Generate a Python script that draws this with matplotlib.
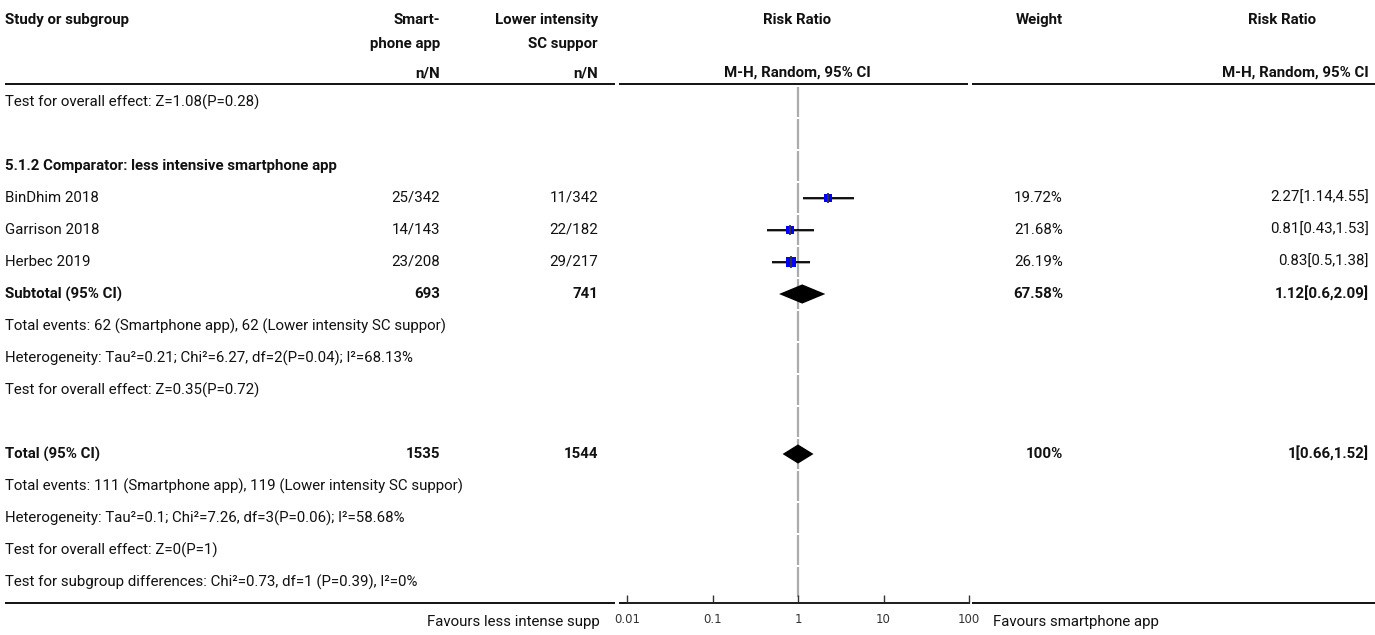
import matplotlib
matplotlib.use("Agg")
import matplotlib.pyplot as plt
from matplotlib.transforms import blended_transform_factory

plt.rcParams['font.family'] = ['Roboto', 'DejaVu Sans']

# data
studies = ["BinDhim 2018", "Garrison 2018", "Herbec 2019"]
app_n = [25, 14, 23]
app_N = [342, 143, 208]
ctl_n = [11, 22, 29]
ctl_N = [342, 182, 217]
rr = [2.27, 0.81, 0.83]
rr_lo = [1.14, 0.43, 0.5]
rr_hi = [4.55, 1.53, 1.38]
weights = [19.72, 21.68, 26.19]

sub_rr, sub_lo, sub_hi, sub_w = 1.12, 0.6, 2.09, 67.58
sub_N = [693, 741]
tot_rr, tot_lo, tot_hi, tot_w = 1, 0.66, 1.52, 100
tot_N = [1535, 1544]

ticks = [0.01, 0.1, 1, 10, 100]
tick_labels = ["0.01", "0.1", "1", "10", "100"]

fig = plt.figure(figsize=(13.75, 6.35), dpi=100)
bg = fig.add_axes([0, 0, 1, 1])
bg.set_xlim(0, 1375)
bg.set_ylim(635, 0)
bg.axis('off')

W, H = 1375, 635
x0, x1 = 627, 969
y_top, y_bot = 84, 603
row0, step = 102, 32
fx = fig.add_axes([x0 / W, (H - y_bot) / H, (x1 - x0) / W, (y_bot - y_top) / H])
fx.set_xscale('log')
fx.set_xlim(0.01, 100)
fx.set_ylim((y_bot - row0) / step, (y_top - row0) / step)
fx.patch.set_alpha(0)
for s in ['top', 'left', 'right']:
    fx.spines[s].set_visible(False)
fx.spines['bottom'].set_linewidth(1.4)
fx.spines['bottom'].set_color('#222222')
fx.set_yticks([])
fx.set_xticks(ticks)
fx.set_xticklabels(tick_labels)
fx.minorticks_off()
fx.tick_params(axis='x', direction='in', length=6, width=1, color='#333333',
               labelsize=8.5, labelcolor='#333333', pad=7)
for lab in fx.get_xticklabels():
    lab.set_fontfamily('DejaVu Sans')

tr = blended_transform_factory(bg.transData, fx.transData)
FS = 10.8


def txt(x, r, s, ha='left', bold=False):
    bg.text(x, r, s, transform=tr, ha=ha, va='center', fontsize=FS,
            fontweight='bold' if bold else 'normal', color='#111111')


# header
hdr = dict(fontsize=FS, fontweight='bold', va='center', color='#111111')
bg.text(5, 20, "Study or subgroup", ha='left', **hdr)
bg.text(440, 20, "Smart-", ha='right', **hdr)
bg.text(440, 44, "phone app", ha='right', **hdr)
bg.text(440, 73, "n/N", ha='right', **hdr)
bg.text(598, 20, "Lower intensity", ha='right', **hdr)
bg.text(598, 44, "SC suppor", ha='right', **hdr)
bg.text(598, 73, "n/N", ha='right', **hdr)
bg.text(797, 20, "Risk Ratio", ha='center', **hdr)
bg.text(797, 73, "M-H, Random, 95% CI", ha='center', **hdr)
bg.text(1063, 20, "Weight", ha='right', **hdr)
bg.text(1282, 20, "Risk Ratio", ha='center', **hdr)
bg.text(1369, 73, "M-H, Random, 95% CI", ha='right', **hdr)

for y in (y_top, y_bot):
    for a, b in [(5, 615), (619, 968), (972, 1375)]:
        bg.hlines(y, a, b, color='#111111', lw=1.4)

# vertical line at RR = 1, broken at row boundaries
n_rows = 16
for r in range(n_rows):
    lo = max(r - 0.46, (y_top - row0) / step)
    hi = min(r + 0.46, (y_bot - row0) / step)
    fx.vlines(1, lo, hi, color='#ababab', lw=1.6, zorder=1)

txt(5, 0, "Test for overall effect: Z=1.08(P=0.28)")
txt(5, 2, "5.1.2 Comparator: less intensive smartphone app", bold=True)

for i, name in enumerate(studies):
    r = 3 + i
    txt(5, r, name)
    txt(440, r, f"{app_n[i]}/{app_N[i]}", ha='right')
    txt(598, r, f"{ctl_n[i]}/{ctl_N[i]}", ha='right')
    txt(1063, r, f"{weights[i]:g}%", ha='right')
    txt(1369, r, f"{rr[i]:g}[{rr_lo[i]:g},{rr_hi[i]:g}]", ha='right')
    fx.hlines(r + 0.045, rr_lo[i], rr_hi[i], color='#999999', lw=1.2, zorder=2)
    fx.hlines(r, rr_lo[i], rr_hi[i], color='black', lw=1.3, zorder=3)
    side = weights[i] * 0.355 * 0.72
    fx.plot(rr[i], r, marker='s', ms=side, color='#0000ff', mew=0, zorder=4)
    fx.plot(rr[i], r, marker='|', ms=side * 1.35, color='#333333', mew=1.3, zorder=5)


def diamond(r, est, lo, hi):
    h = 0.3
    fx.fill([lo, est, hi, est], [r, r - h, r, r + h], color='black', lw=0, zorder=4)


txt(5, 6, "Subtotal (95% CI)", bold=True)
txt(440, 6, f"{sub_N[0]}", ha='right', bold=True)
txt(598, 6, f"{sub_N[1]}", ha='right', bold=True)
txt(1063, 6, f"{sub_w:g}%", ha='right', bold=True)
txt(1369, 6, f"{sub_rr:g}[{sub_lo:g},{sub_hi:g}]", ha='right', bold=True)
diamond(6, sub_rr, sub_lo, sub_hi)
txt(5, 7, "Total events: 62 (Smartphone app), 62 (Lower intensity SC suppor)")
txt(5, 8, "Heterogeneity: Tau²=0.21; Chi²=6.27, df=2(P=0.04); I²=68.13%")
txt(5, 9, "Test for overall effect: Z=0.35(P=0.72)")

txt(5, 11, "Total (95% CI)", bold=True)
txt(440, 11, f"{tot_N[0]}", ha='right', bold=True)
txt(598, 11, f"{tot_N[1]}", ha='right', bold=True)
txt(1063, 11, f"{tot_w:g}%", ha='right', bold=True)
txt(1369, 11, f"{tot_rr:g}[{tot_lo:g},{tot_hi:g}]", ha='right', bold=True)
diamond(11, tot_rr, tot_lo, tot_hi)
txt(5, 12, "Total events: 111 (Smartphone app), 119 (Lower intensity SC suppor)")
txt(5, 13, "Heterogeneity: Tau²=0.1; Chi²=7.26, df=3(P=0.06); I²=58.68%")
txt(5, 14, "Test for overall effect: Z=0(P=1)")
txt(5, 15, "Test for subgroup differences: Chi²=0.73, df=1 (P=0.39), I²=0%")

bg.text(600, 622, "Favours less intense supp", ha='right', va='center', fontsize=FS, color='#111111')
bg.text(993, 622, "Favours smartphone app", ha='left', va='center', fontsize=FS, color='#111111')

fig.savefig("out.png", dpi=100)
